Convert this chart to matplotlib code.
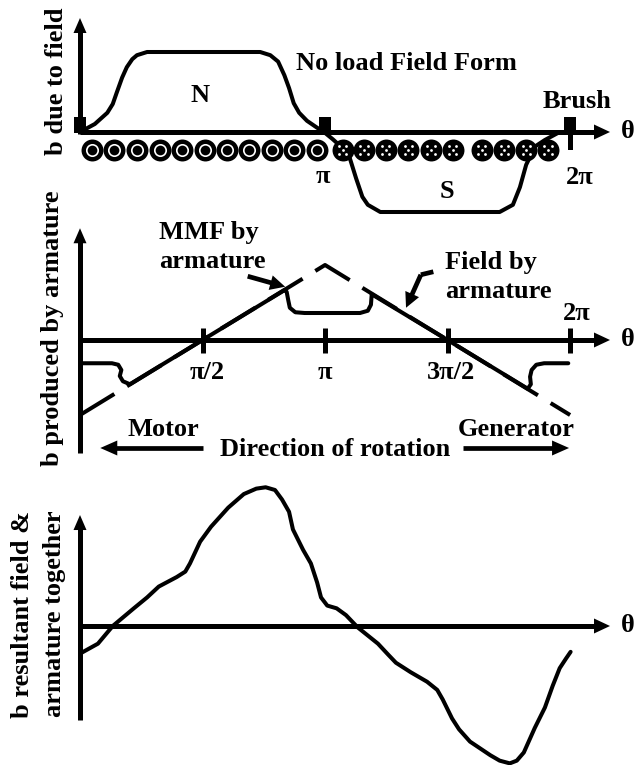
import numpy as np
import matplotlib.pyplot as plt

# --- data (theta in rad, b in relative units) ---
# panel 1: no load field form
field_theta = [0.00, 0.19, 0.35, 0.42, 0.47, 0.54, 0.60, 0.67, 0.73, 0.86, 2.31, 2.44,
               2.54, 2.62, 2.68, 2.74, 2.81, 2.91, 3.03, 3.14, 3.24, 3.40, 3.46, 3.54,
               3.62, 3.69, 3.85, 5.38, 5.55, 5.64, 5.72, 5.77, 5.82, 5.96, 6.15]
field_b = [0.00, 0.10, 0.24, 0.35, 0.49, 0.68, 0.81, 0.91, 0.96, 1.00, 1.00, 0.96,
           0.88, 0.71, 0.55, 0.36, 0.24, 0.14, 0.06, -0.01, -0.09, -0.23, -0.33, -0.58,
           -0.81, -0.91, -1.00, -1.00, -0.91, -0.69, -0.41, -0.31, -0.19, -0.10, 0.00]
brush_theta = [0.0, np.pi, 2 * np.pi]
dot_theta = [0.15, 0.44, 0.73, 1.02, 1.31, 1.60, 1.88, 2.17, 2.46, 2.75, 3.04]
cross_theta = [3.37, 3.64, 3.92, 4.21, 4.50, 4.78, 5.15, 5.44, 5.72, 6.00]

# panel 2: armature mmf (triangle) and armature field
mmf_theta = [0.0, np.pi, 2 * np.pi]
mmf_b = [-1.0, 1.0, -1.0]
arm_theta = [0.00, 0.41, 0.49, 0.53, 0.51, 0.55, 0.64, np.pi / 2, 2.63, 2.65, 2.67, 2.69,
             2.76, 2.88, 3.59, 3.69, 3.73, 3.74, 3 * np.pi / 2, 5.74, 5.78, 5.77, 5.79,
             5.85, 5.95, 6.26]
arm_b = [-0.31, -0.31, -0.33, -0.40, -0.48, -0.55, -0.59, 0.00, 0.67, 0.64, 0.53, 0.43,
         0.37, 0.36, 0.36, 0.39, 0.47, 0.61, 0.00, -0.65, -0.59, -0.49, -0.40,
         -0.33, -0.31, -0.31]
tick_theta = [np.pi / 2, np.pi, 3 * np.pi / 2, 2 * np.pi]
tick_labels = ['π/2', 'π', '3π/2', '2π']

# panel 3: resultant field
res_theta = [0.01, 0.23, 0.42, 0.69, 0.86, 1.01, 1.24, 1.35, 1.41, 1.54, 1.68, 1.90,
             2.10, 2.26, 2.38, 2.50, 2.59, 2.68, 2.73, 2.86, 2.96, 3.04, 3.09, 3.17,
             3.29, 3.41, 3.56, 3.82, 3.95, 4.05, 4.24, 4.45, 4.58, 4.65, 4.77, 4.86,
             5.00, 5.13, 5.26, 5.38, 5.51, 5.60, 5.69, 5.83, 5.96, 6.06, 6.15, 6.23, 6.29]
res_b = [-0.20, -0.13, 0.00, 0.13, 0.21, 0.29, 0.36, 0.40, 0.46, 0.62, 0.73, 0.87,
         0.97, 1.01, 1.02, 1.00, 0.93, 0.84, 0.71, 0.56, 0.46, 0.32, 0.21, 0.15,
         0.13, 0.08, -0.01, -0.13, -0.21, -0.27, -0.34, -0.41, -0.47, -0.54, -0.68, -0.76,
         -0.85, -0.90, -0.95, -0.99, -1.01, -0.99, -0.93, -0.75, -0.60, -0.44, -0.31, -0.24, -0.19]

W, H = 637, 765
PX = 78.0   # pixels per radian
X0 = 80.0   # pixel of theta = 0
FS = 19
LW_AX = 3.6
LW = 2.9

plt.rcParams['font.family'] = ['Liberation Serif', 'DejaVu Serif']
plt.rcParams['font.weight'] = 'bold'

fig = plt.figure(figsize=(W / 100, H / 100), dpi=100)


def panel(y0, s, name):
    ax = fig.add_axes([0, 0, 1, 1], label=name)
    ax.set_xlim(-X0 / PX, (W - X0) / PX)
    ax.set_ylim((y0 - H) / s, y0 / s)
    ax.axis('off')
    ax.patch.set_alpha(0)
    return ax


def arrow(ax, p0, p1, lw=LW_AX, hl=16, hw=15):
    d0 = ax.transData.transform(p0)
    d1 = ax.transData.transform(p1)
    u = (d1 - d0) / np.hypot(*(d1 - d0))
    pm = ax.transData.inverted().transform(d1 - u * hl * 0.6)
    ax.plot([p0[0], pm[0]], [p0[1], pm[1]], color='k', lw=lw, solid_capstyle='butt')
    style = '-|>,head_length=%.3f,head_width=%.3f' % (hl * 0.72 / 10, hw * 0.36 / 10)
    ax.annotate('', xy=p1, xytext=p0,
                arrowprops=dict(arrowstyle=style, mutation_scale=10, lw=0,
                                fc='k', ec='none', shrinkA=0, shrinkB=0))


def ftext(px, py, s, **kw):
    kw.setdefault('ha', 'center')
    kw.setdefault('va', 'center')
    fig.text(px / W, 1 - py / H, s, fontsize=FS, fontweight='bold', **kw)


# ---------------- panel 1 ----------------
ax1 = panel(132, 80, 'p1')
arrow(ax1, (0, 0), (6.795, 0))
arrow(ax1, (0, -0.02), (0, 1.425), hl=15, hw=13)
ax1.plot(field_theta, field_b, color='k', lw=LW, solid_joinstyle='round',
         solid_capstyle='round')
rect = [(-0.4, -0.5), (0.4, -0.5), (0.4, 0.5), (-0.4, 0.5), (-0.4, -0.5)]
ax1.plot(brush_theta, [0.09] * 3, ls='none', marker=rect, ms=11, color='k', mew=0)
ax1.plot([2 * np.pi, 2 * np.pi], [0.15, -0.19], color='k', lw=LW_AX)

row = -0.225
ax1.plot(dot_theta, [row] * len(dot_theta), 'o', ms=15.8, color='k', mew=0)
ax1.plot(dot_theta, [row] * len(dot_theta), 'o', ms=8.2, mfc='none', mec='white', mew=1.2)
ax1.plot(cross_theta, [row] * len(cross_theta), 'o', ms=15.8, color='k', mew=0)
dt, db = 3.6 / PX, 3.6 / 80
for ox, oy in [(-dt, db), (dt, db), (0, 0), (-dt, -db), (dt, -db)]:
    ax1.plot(np.array(cross_theta) + ox, [row + oy] * len(cross_theta), 'o',
             ms=2.0, color='white', mew=0)

ftext(57, 81, 'b due to field', rotation=90)
ftext(200, 95, 'N')
ftext(406, 63, 'No load Field Form')
ftext(577, 101, 'Brush')
ftext(323, 183, 'π', va='baseline')
ftext(580, 184, '2π', va='baseline')
ftext(447, 192, 'S')
ftext(628, 132, 'θ')

# ---------------- panel 2 ----------------
ax2 = panel(340, 75, 'p2')
arrow(ax2, (0, 0), (6.795, 0))
arrow(ax2, (0, -1.51), (0, 1.49), hl=15, hw=13)
for t in tick_theta:
    ax2.plot([t, t], [0.16, -0.17], color='k', lw=LW_AX, solid_capstyle='butt')
ax2.plot(mmf_theta, mmf_b, color='k', lw=LW, dashes=(10, 3.7), dash_capstyle='butt')
ax2.plot(arm_theta, arm_b, color='k', lw=LW, solid_joinstyle='round',
         solid_capstyle='round')

offs = [(5, -39), (0, -39), (3, -39), (7, 20)]
for t, lab, (dx, dy) in zip(tick_theta, tick_labels, offs):
    ax2.annotate(lab, (t, 0), xytext=(dx, dy), textcoords='offset pixels',
                 ha='center', va='baseline', fontsize=FS, fontweight='bold')

arrow(ax2, (2.15, 0.85), (2.63, 0.71), lw=3.4, hl=15, hw=15)
ax2.plot([4.53, 4.37], [0.91, 0.87], color='k', lw=3.4, solid_capstyle='butt')
arrow(ax2, (4.37, 0.87), (4.18, 0.43), lw=3.4, hl=15, hw=15)
arrow(ax2, (1.58, -1.44), (0.26, -1.44), lw=3.4, hl=17, hw=15)
arrow(ax2, (4.91, -1.44), (6.27, -1.44), lw=3.4, hl=17, hw=15)

ftext(53, 328, 'b produced by armature', rotation=90)
ftext(159, 233, 'MMF by', ha='left')
ftext(159, 262, 'armature', ha='left')
ftext(445, 262, 'Field by', ha='left')
ftext(445, 292, 'armature', ha='left')
ftext(628, 340, 'θ')
ftext(127, 430, 'Motor', ha='left')
ftext(516, 430, 'Generator')
ftext(335, 450, 'Direction of rotation')

# ---------------- panel 3 ----------------
ax3 = panel(626, 136, 'p3')
arrow(ax3, (0, 0), (6.795, 0))
arrow(ax3, (0, -0.69), (0, 0.816), hl=15, hw=13)
ax3.plot(res_theta, res_b, color='k', lw=LW, solid_joinstyle='round',
         solid_capstyle='round')

ftext(23, 614, 'b resultant field &', rotation=90)
ftext(55, 614, 'armature together', rotation=90)
ftext(628, 626, 'θ')

fig.savefig('out.png', dpi=100, facecolor='white')
